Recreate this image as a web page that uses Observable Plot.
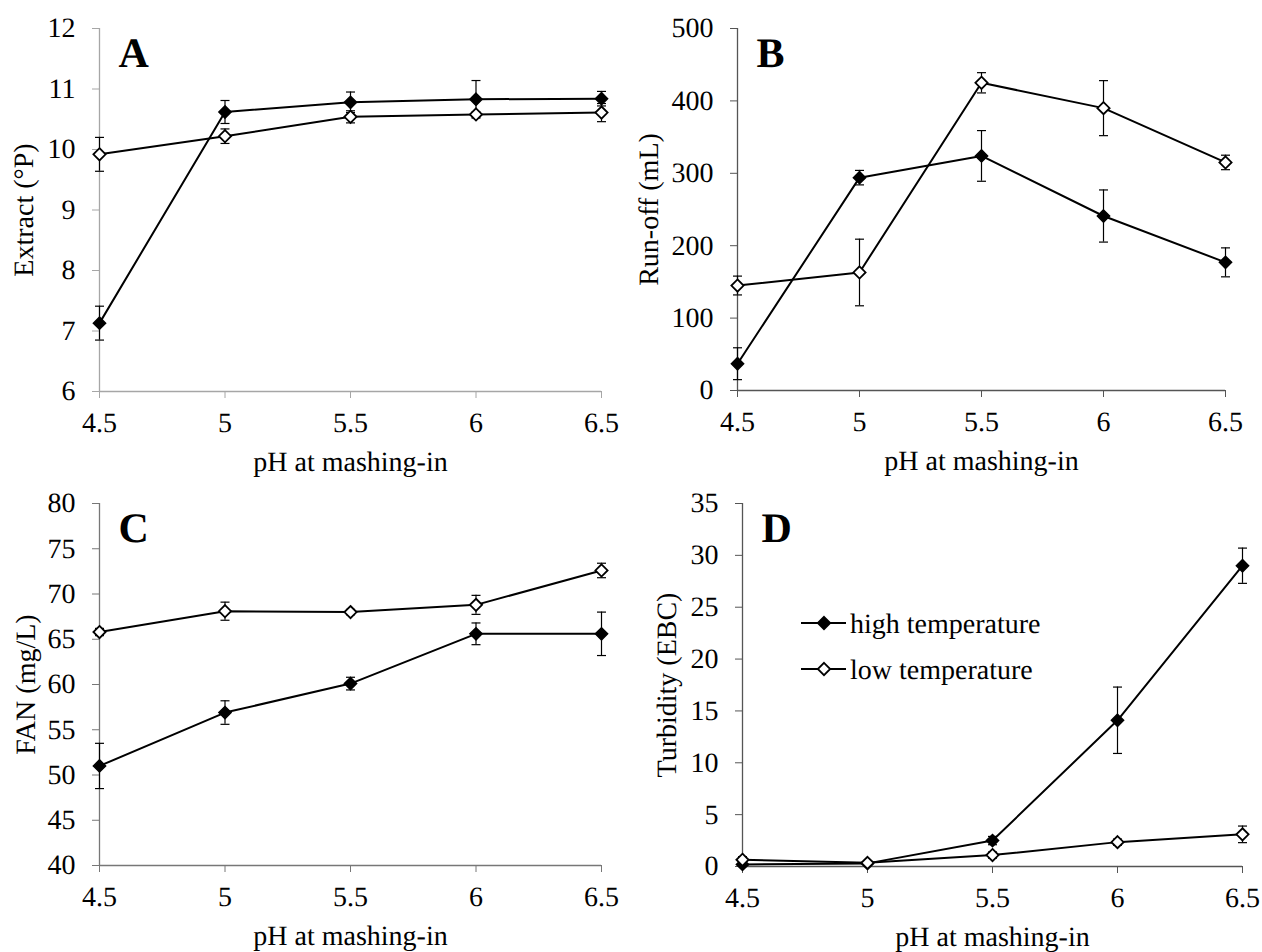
<!DOCTYPE html>
<html>
<head>
<meta charset="utf-8">
<script src="https://cdn.jsdelivr.net/npm/d3@7"></script>
<script src="https://cdn.jsdelivr.net/npm/@observablehq/plot@0.6"></script>
<style>
  html, body { margin: 0; padding: 0; background: #fff; }
  #wrap { position: relative; width: 1262px; height: 952px; overflow: hidden; font-family: "Liberation Serif", "Times New Roman", Times, serif; text-rendering: geometricPrecision; }
  .panel { position: absolute; width: 631px; height: 476px; }
  #legend { position: absolute; left: 0; top: 0; }
  svg text { text-rendering: geometricPrecision; }
</style>
</head>
<body>
<div id="wrap"></div>
<script>
// ---- data ----
const pH = [4.5, 5, 5.5, 6, 6.5];
const seriesNames = ["high temperature", "low temperature"];

const extractHigh    = [7.13, 10.62, 10.78, 10.83, 10.84];
const extractHighErr = [0.28, 0.19, 0.17, 0.31, 0.12];
const extractLow     = [9.92, 10.22, 10.54, 10.58, 10.61];
const extractLowErr  = [0.28, 0.12, 0.10, 0.04, 0.15];

const runoffHigh    = [37, 294, 324, 241, 177];
const runoffHighErr = [22, 10, 35, 36, 20];
const runoffLow     = [145, 163, 425, 390, 315];
const runoffLowErr  = [13, 46, 14, 38, 10];

const fanHigh    = [51.0, 56.9, 60.1, 65.6, 65.6];
const fanHighErr = [2.5, 1.3, 0.7, 1.2, 2.4];
const fanLow     = [65.8, 68.1, 68.0, 68.8, 72.6];
const fanLowErr  = [0.4, 1.0, 0.3, 1.05, 0.8];

const turbHigh    = [0.2, 0.3, 2.5, 14.1, 29.0];
const turbHighErr = [0.2, 0.1, 0.4, 3.2, 1.7];
const turbLow     = [0.65, 0.35, 1.1, 2.35, 3.1];
const turbLowErr  = [0.3, 0.2, 0.3, 0.3, 0.8];

const xTicks = [4.5, 5, 5.5, 6, 6.5];
const xLabel = "pH at mashing-in";

const FONT = '"Liberation Serif", "Times New Roman", Times, serif';
const FS = 28;

const panels = [
  {letter: "A", yLabel: "Extract (°P)", yDomain: [6, 12], yTicks: [6, 7, 8, 9, 10, 11, 12],
   high: extractHigh, highErr: extractHighErr, low: extractLow, lowErr: extractLowErr,
   left: 0, top: 0, m: {l: 99, r: 30, t: 28, b: 85}, lo: 86, axisColor: "#a6a6a6"},
  {letter: "B", yLabel: "Run-off (mL)", yDomain: [0, 500], yTicks: [0, 100, 200, 300, 400, 500],
   high: runoffHigh, highErr: runoffHighErr, low: runoffLow, lowErr: runoffLowErr,
   left: 631, top: 0, m: {l: 106, r: 37, t: 28, b: 86}, lo: 99, axisColor: "#555"},
  {letter: "C", yLabel: "FAN (mg/L)", yDomain: [40, 80], yTicks: [40, 45, 50, 55, 60, 65, 70, 75, 80],
   high: fanHigh, highErr: fanHighErr, low: fanLow, lowErr: fanLowErr,
   left: 0, top: 476, m: {l: 99, r: 30, t: 27, b: 87}, lo: 84, axisColor: "#777"},
  {letter: "D", yLabel: "Turbidity (EBC)", yDomain: [0, 35], yTicks: [0, 5, 10, 15, 20, 25, 30, 35],
   high: turbHigh, highErr: turbHighErr, low: turbLow, lowErr: turbLowErr,
   left: 631, top: 476, m: {l: 111, r: 20, t: 27, b: 86}, lo: 86, axisColor: "#555"}
];

// horizontal cap symbol for error bars
const capSymbol = {
  draw(context, size) {
    const w = Math.sqrt(size / Math.PI);
    context.moveTo(-w, 0);
    context.lineTo(w, 0);
  }
};

const wrap = document.getElementById("wrap");

for (const p of panels) {
  const rows = [];
  pH.forEach((x, i) => {
    rows.push({x, y: p.high[i], e: p.highErr[i], s: seriesNames[0]});
    rows.push({x, y: p.low[i], e: p.lowErr[i], s: seriesNames[1]});
  });
  const high = rows.filter(d => d.s === seriesNames[0]);
  const low = rows.filter(d => d.s === seriesNames[1]);

  const chart = Plot.plot({
    width: 631,
    height: 476,
    marginLeft: p.m.l,
    marginRight: p.m.r,
    marginTop: p.m.t,
    marginBottom: p.m.b,
    style: {fontFamily: FONT, fontSize: FS + "px", color: "black", background: "transparent", overflow: "visible"},
    x: {domain: [4.5, 6.5]},
    y: {domain: p.yDomain},
    marks: [
      Plot.axisX({ticks: xTicks, tickFormat: d => String(d), tickSize: 7, tickPadding: 14,
        stroke: p.axisColor, fill: "black", fontSize: FS, fontFamily: FONT,
        label: xLabel, labelAnchor: "center", labelOffset: 79, labelArrow: "none"}),
      Plot.axisY({ticks: p.yTicks, tickFormat: d => String(d), tickSize: 7, tickPadding: 17,
        stroke: p.axisColor, fill: "black", fontSize: FS, fontFamily: FONT,
        label: p.yLabel, labelAnchor: "center", labelOffset: p.lo, labelArrow: "none"}),
      Plot.ruleX([4.5], {stroke: p.axisColor, strokeWidth: 1.3}),
      Plot.ruleY([p.yDomain[0]], {stroke: p.axisColor, strokeWidth: 1.3}),
      Plot.line(high, {x: "x", y: "y", stroke: "black", strokeWidth: 2}),
      Plot.line(low, {x: "x", y: "y", stroke: "black", strokeWidth: 2}),
      Plot.ruleX(rows, {x: "x", y1: d => d.y - d.e, y2: d => d.y + d.e, stroke: "black", strokeWidth: 1.2}),
      Plot.dot(rows, {x: "x", y: d => d.y + d.e, symbol: capSymbol, r: 4.5, stroke: "black", strokeWidth: 1.2}),
      Plot.dot(rows, {x: "x", y: d => d.y - d.e, symbol: capSymbol, r: 4.5, stroke: "black", strokeWidth: 1.2}),
      Plot.dot(high, {x: "x", y: "y", symbol: "diamond2", r: 5.5, fill: "black", stroke: "black", strokeWidth: 1.5}),
      Plot.dot(low, {x: "x", y: "y", symbol: "diamond2", r: 5.5, fill: "white", stroke: "black", strokeWidth: 1.8}),
      Plot.text([p.letter], {frameAnchor: "top-left", dx: 19, dy: 9, lineAnchor: "top", textAnchor: "start",
        fontSize: 42, fontWeight: "bold", fontFamily: FONT, fill: "black"})
    ]
  });
  const div = document.createElement("div");
  div.className = "panel";
  div.style.left = p.left + "px";
  div.style.top = p.top + "px";
  div.appendChild(chart);
  wrap.appendChild(div);
}

// legend (inside panel D)
const NS = "http://www.w3.org/2000/svg";
const leg = document.createElementNS(NS, "svg");
leg.setAttribute("id", "legend");
leg.setAttribute("width", 1262);
leg.setAttribute("height", 952);
leg.style.pointerEvents = "none";
const legendRows = [
  {name: seriesNames[0], fill: "black", y: 623},
  {name: seriesNames[1], fill: "white", y: 669}
];
for (const r of legendRows) {
  const line = document.createElementNS(NS, "line");
  line.setAttribute("x1", 801); line.setAttribute("x2", 846);
  line.setAttribute("y1", r.y); line.setAttribute("y2", r.y);
  line.setAttribute("stroke", "black"); line.setAttribute("stroke-width", 2);
  leg.appendChild(line);
  const d = 6.2;
  const poly = document.createElementNS(NS, "path");
  poly.setAttribute("d", `M${824},${r.y - d}L${824 + d},${r.y}L${824},${r.y + d}L${824 - d},${r.y}Z`);
  poly.setAttribute("fill", r.fill); poly.setAttribute("stroke", "black"); poly.setAttribute("stroke-width", 1.8);
  leg.appendChild(poly);
  const t = document.createElementNS(NS, "text");
  t.setAttribute("x", 850); t.setAttribute("y", r.y);
  t.setAttribute("dy", "0.35em");
  t.style.fontFamily = FONT;
  t.setAttribute("font-size", FS);
  t.setAttribute("fill", "black");
  t.textContent = r.name;
  leg.appendChild(t);
}
wrap.appendChild(leg);
</script>
</body>
</html>
